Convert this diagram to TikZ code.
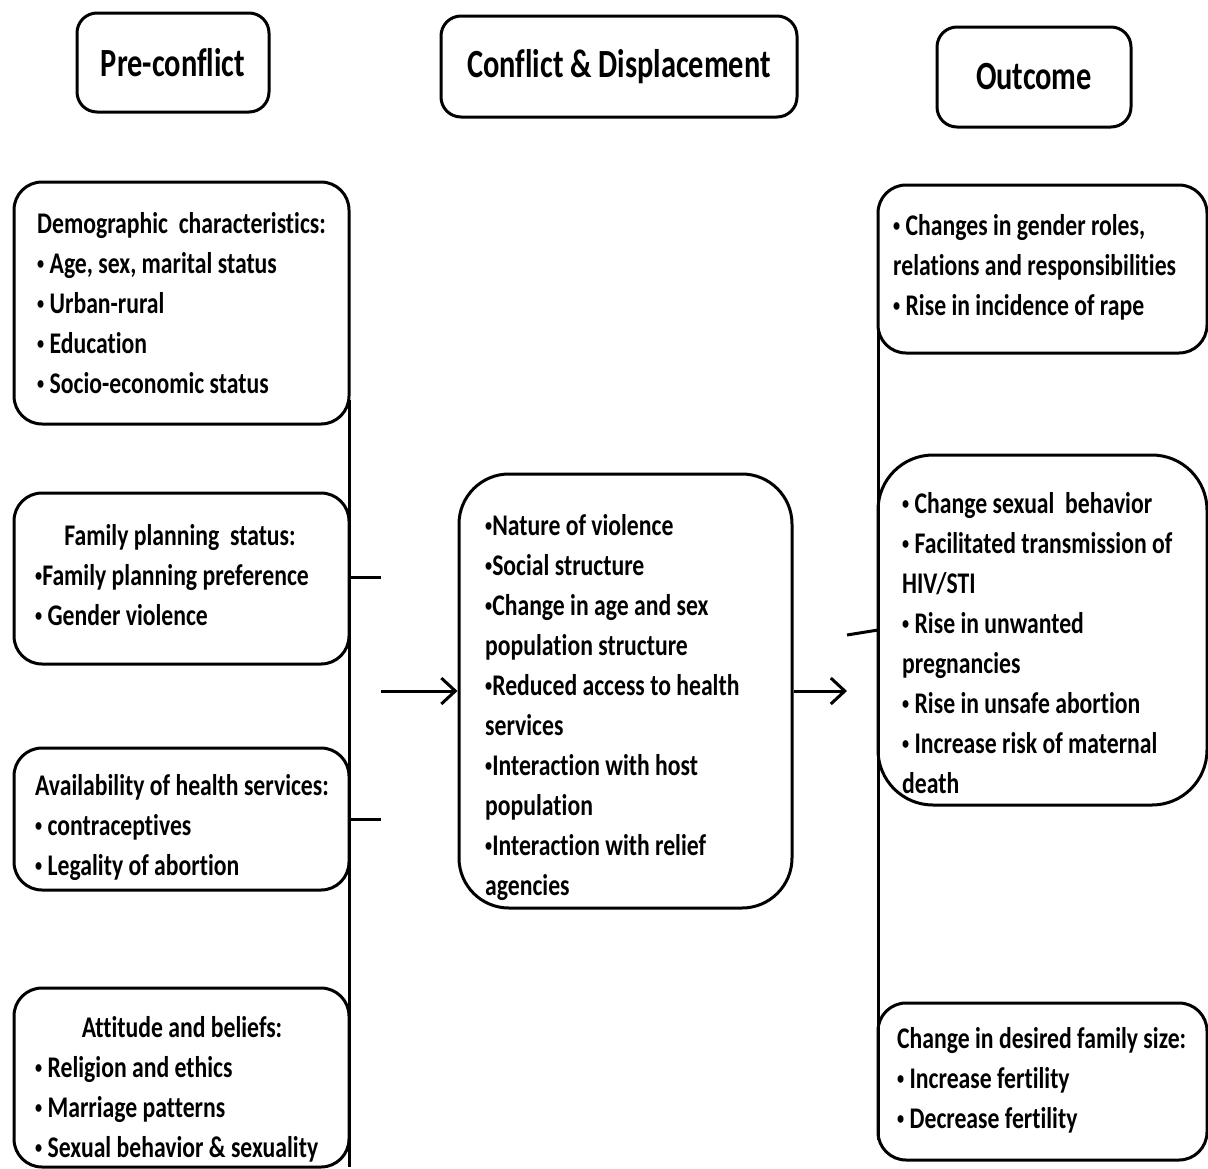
\documentclass[tikz,border=0pt]{standalone}
\usepackage{fontspec}
\setmainfont{Carlito}[FakeStretch=0.79,Ligatures=NoCommon]
\newfontfamily\ttlfont{Carlito}[FakeStretch=0.76,Ligatures=NoCommon]
\usetikzlibrary{arrows.meta}
\newcommand\bul{\raisebox{0.12em}{\scalebox{0.6}{•}}}
\begin{document}
\begin{tikzpicture}[x=1pt,y=-1pt,
  box/.style={draw=black,line width=3pt,rounded corners=#1,inner sep=0pt,fill=none},
  box/.default=28pt,
  txt/.style={inner sep=0pt,align=left,anchor=north west,font=\bfseries\fontsize{30}{40}\selectfont},
  head/.style={inner sep=0pt,anchor=base,font=\bfseries\fontsize{30}{40}\selectfont},
  ttl/.style={draw=black,line width=3pt,rounded corners=20pt,inner sep=0pt,font=\ttlfont\bfseries\fontsize{40}{48}\selectfont},
  conn/.style={line width=3pt},
  arr/.style={line width=3pt,-{Straight Barb[length=14pt,width=26pt,line width=3pt]}}]
\useasboundingbox (0,0) rectangle (1208,1168);
% titles
\node[ttl,minimum width=192pt,minimum height=99pt] (t1) at (173,62.5) {Pre-conflict};
\node[ttl,minimum width=356pt,minimum height=101pt] (t2) at (619,66.5) {Conflict \& Displacement};
\node[ttl,minimum width=194pt,minimum height=100pt] (t3) at (1034,77) {Outcome};
% left boxes
\node[box,minimum width=335pt,minimum height=242pt] (demo) at (181.5,303) {};
\node[box,minimum width=335pt,minimum height=171pt] (fps) at (181.5,578.5) {};
\node[box,minimum width=335pt,minimum height=142pt] (avail) at (181.5,819) {};
\node[box,minimum width=335pt,minimum height=179pt] (att) at (181.5,1077.5) {};
% middle
\node[box=50pt,minimum width=333pt,minimum height=434pt] (mid) at (625.5,691) {};
% right boxes
\node[box,minimum width=329pt,minimum height=168pt] (ob1) at (1042.5,269) {};
\node[box=55pt,minimum width=329pt,minimum height=350pt] (ob2) at (1042.5,630) {};
\node[box,minimum width=329pt,minimum height=157pt] (ob3) at (1042.5,1081.5) {};
% texts
\node[txt] (demotxt) at (37,205) {\strut Demographic\ \ characteristics:\\\bul\ Age, sex, marital status\\\bul\ Urban-rural\\\bul\ Education\\\bul\ Socio-economic status};
\node[head] (fpshead) at (180,545) {Family planning\ \ status:};
\node[txt] (fpstxt) at (35,557) {\strut \bul Family planning preference\\\bul\ Gender violence};
\node[txt] (availtxt) at (35,767) {\strut Availability of health services:\\\bul\ contraceptives\\\bul\ Legality of abortion};
\node[head] (atthead) at (182,1037) {Attitude and beliefs:};
\node[txt] (atttxt) at (35,1049) {\strut \bul\ Religion and ethics\\\bul\ Marriage patterns\\\bul\ Sexual behavior \& sexuality};
\node[txt] (midtxt) at (485,507) {\strut \bul Nature of violence\\\bul Social structure\\\bul Change in age and sex\\population structure\\\bul Reduced access to health\\services\\\bul Interaction with host\\population\\\bul Interaction with relief\\agencies};
\node[txt] (ob1txt) at (893,207) {\strut \bul\ Changes in gender roles,\\relations and responsibilities\\\bul\ Rise in incidence of rape};
\node[txt] (ob2txt) at (902,485) {\strut \bul\ Change sexual\ \ behavior\\\bul\ Facilitated transmission of\\HIV/STI\\\bul\ Rise in unwanted\\pregnancies\\\bul\ Rise in unsafe abortion\\\bul\ Increase risk of maternal\\death};
\node[txt] (ob3txt) at (897,1020) {\strut Change in desired family size:\\\bul\ Increase fertility\\\bul\ Decrease fertility};
% connectors left
\coordinate (ltop) at (349,400);
\coordinate (lbot) at (349,1167);
\coordinate (s1) at (381,577);
\coordinate (s2) at (381,819);
\coordinate (a1) at (381,691);
\draw[conn] (ltop) -- (lbot);
\draw[conn] (s1 -| ltop) -- (s1);
\draw[conn] (s2 -| ltop) -- (s2);
\draw[arr] (a1) -- (mid.west);
% connectors right
\coordinate (a2) at (847,691);
\coordinate (rs1) at (847,635);
\coordinate (rs2) at (878,630);
\coordinate (rtop) at (878,330);
\coordinate (rbot) at (878,1140);
\draw[arr] (mid.east) -- (a2);
\draw[conn] (rs1) -- (rs2);
\draw[conn] (rtop) -- (rbot);
\end{tikzpicture}
\end{document}
